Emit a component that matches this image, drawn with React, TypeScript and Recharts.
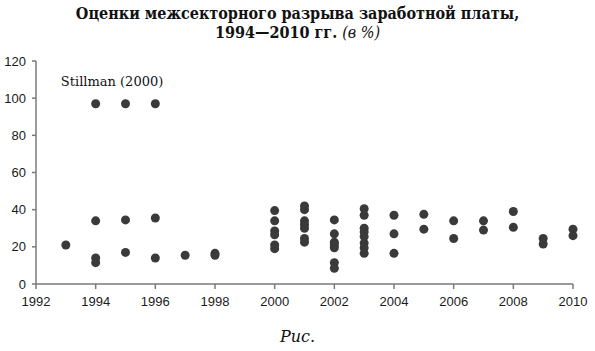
import { ScatterChart, Scatter, XAxis, YAxis, ReferenceDot } from "recharts";

// year of each study column and the estimates (in %) reported for it
const years = [1993, 1994, 1995, 1996, 1997, 1998, 2000, 2001, 2002, 2003, 2004, 2005, 2006, 2007, 2008, 2009, 2010];
const estimates: number[][] = [
  [21],
  [97, 34, 14, 11.5],
  [97, 34.5, 17],
  [97, 35.5, 14],
  [15.5],
  [16.5, 15.5],
  [39.5, 34, 28.5, 26.5, 21, 19],
  [42, 40, 34, 32, 30, 24.5, 22.5],
  [34.5, 27, 22.5, 21, 19.5, 11.5, 8.5],
  [40.5, 37, 30, 28, 25.5, 22, 19.5, 16.5],
  [37, 27, 16.5],
  [37.5, 29.5],
  [34, 24.5],
  [34, 29],
  [39, 30.5],
  [24.5, 21.5],
  [29.5, 26],
];
const xTicks = [1992, 1994, 1996, 1998, 2000, 2002, 2004, 2006, 2008, 2010];
const yTicks = [0, 20, 40, 60, 80, 100, 120];

const points = years.flatMap((year, i) => estimates[i].map((value) => ({ year, value })));

const axisColor = "#7a7a7a";
const tickStyle = { fill: "#1a1a1a", fontSize: 13, fontFamily: "Liberation Sans, Arial, sans-serif" };

export default function App() {
  return (
    <div style={{ position: "absolute", left: 0, top: 0, width: 595, height: 351, background: "#fff" }}>
      <div
        style={{
          position: "absolute",
          top: 4,
          left: 0,
          width: 595,
          textAlign: "center",
          fontFamily: "'DejaVu Serif Condensed', 'DejaVu Serif', serif",
          fontWeight: "bold",
          fontSize: 16,
          lineHeight: "19px",
          color: "#111",
        }}
      >
        Оценки межсекторного разрыва заработной платы,
        <br />
        1994—2010 гг. <span style={{ fontStyle: "italic", fontWeight: "normal" }}>(в %)</span>
      </div>
      <ScatterChart width={595} height={351} margin={{ top: 61, right: 22, bottom: 37, left: 5 }}>
        <XAxis
          type="number"
          dataKey="year"
          domain={[1992, 2010]}
          ticks={xTicks}
          height={30}
          stroke={axisColor}
          strokeWidth={1.5}
          tickSize={5}
          tickMargin={8}
          tick={tickStyle}
        />
        <YAxis
          type="number"
          dataKey="value"
          domain={[0, 120]}
          ticks={yTicks}
          width={31}
          stroke={axisColor}
          strokeWidth={1.5}
          tickSize={4}
          tickMargin={6}
          tick={tickStyle}
        />
        <Scatter
          data={points}
          fill="#3a3a3a"
          isAnimationActive={false}
          shape={(props: any) => <circle cx={props.cx} cy={props.cy} r={4.5} fill="#3a3a3a" />}
        />
        <ReferenceDot
          x={1994.55}
          y={109}
          r={0}
          fill="none"
          stroke="none"
          label={{
            value: "Stillman (2000)",
            position: "center",
            fill: "#111",
            fontSize: 13,
            fontFamily: "DejaVu Serif, serif",
          }}
        />
      </ScatterChart>
      <div
        style={{
          position: "absolute",
          top: 327,
          left: 0,
          width: 595,
          textAlign: "center",
          fontFamily: "DejaVu Serif, serif",
          fontStyle: "italic",
          fontSize: 16,
          color: "#111",
        }}
      >
        Рис.
      </div>
    </div>
  );
}
